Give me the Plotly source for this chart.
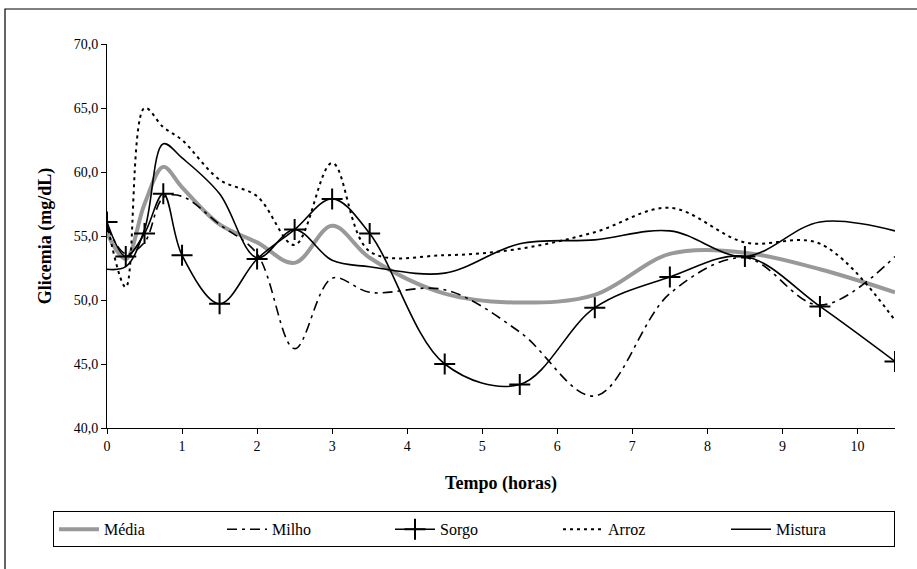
import plotly.graph_objects as go

tempo = [0, 0.25, 0.5, 0.75, 1, 1.5, 2, 2.5, 3, 3.5, 4.5, 5.5, 6.5, 7.5, 8.5, 9.5, 10.5]
media = [55.2, 53.2, 57.5, 60.4, 58.8, 55.9, 54.5, 52.9, 55.8, 53.3, 50.5, 49.8, 50.4, 53.6, 53.7, 52.4, 50.6]
milho = [55.8, 53.6, 54.5, 58.0, 58.1, 55.9, 53.6, 46.2, 51.7, 50.6, 50.8, 47.5, 42.5, 50.5, 53.3, 49.6, 53.4]
sorgo = [56.1, 53.4, 55.2, 58.3, 53.5, 49.7, 53.2, 55.5, 57.9, 55.2, 45.0, 43.4, 49.4, 51.8, 53.4, 49.5, 45.2]
arroz = [56.0, 51.0, 65.0, 63.5, 62.5, 59.4, 58.1, 54.3, 60.7, 53.8, 53.5, 54.0, 55.3, 57.2, 54.5, 54.4, 48.4]
mistura = [52.4, 52.6, 55.5, 62.2, 61.1, 58.3, 53.3, 55.5, 53.1, 52.6, 52.1, 54.4, 54.7, 55.4, 53.4, 56.1, 55.4]

FONT = '"Liberation Serif", "DejaVu Serif", serif'

fig = go.Figure()
fig.add_trace(go.Scatter(x=tempo, y=media, name="Média", mode="lines",
                         line=dict(color="#999999", width=4, shape="spline")))
fig.add_trace(go.Scatter(x=tempo, y=milho, name="Milho", mode="lines",
                         line=dict(color="black", width=1.6, shape="spline", dash="10px,5px,3px,5px")))
fig.add_trace(go.Scatter(x=tempo, y=sorgo, name="Sorgo", mode="lines+markers",
                         line=dict(color="black", width=1.6, shape="spline"),
                         marker=dict(symbol="cross-thin", size=15, color="black",
                                     line=dict(color="black", width=2))))
fig.add_trace(go.Scatter(x=tempo, y=arroz, name="Arroz", mode="lines",
                         line=dict(color="black", width=2, shape="spline", dash="3px,4px")))
fig.add_trace(go.Scatter(x=tempo, y=mistura, name="Mistura", mode="lines",
                         line=dict(color="black", width=1.6, shape="spline")))

fig.update_layout(
    width=917, height=569,
    margin=dict(l=107, r=22, t=44, b=141, autoexpand=False),
    paper_bgcolor="white", plot_bgcolor="white",
    separators=",.",
    font=dict(family=FONT, size=13, color="black"),
    showlegend=True,
    legend=dict(orientation="h", x=(53 - 107) / 788, xanchor="left", y=-0.217, yanchor="top",
                bordercolor="black", borderwidth=1, entrywidth=113, entrywidthmode="pixels",
                font=dict(family=FONT, size=16, color="black"),
                itemwidth=40),
    xaxis=dict(range=[0, 10.5], tickmode="linear", tick0=0, dtick=1,
               showline=True, linecolor="black", linewidth=1, mirror=False,
               ticks="outside", ticklen=5, tickcolor="black", showgrid=False, zeroline=False,
               title=dict(text="<b>Tempo (horas)</b>", font=dict(family=FONT, size=18), standoff=23),
               tickfont=dict(family=FONT, size=14)),
    yaxis=dict(range=[40, 70], tickmode="linear", tick0=40, dtick=5, tickformat=".1f",
               showline=True, linecolor="black", linewidth=1,
               ticks="outside", ticklen=5, tickcolor="black", showgrid=False, zeroline=False,
               title=dict(text="<b>Glicemia (mg/dL)</b>", font=dict(family=FONT, size=18), standoff=17),
               tickfont=dict(family=FONT, size=14)),
    shapes=[dict(type="rect", xref="paper", yref="paper",
                 x0=(5 - 107) / 788, x1=(930 - 107) / 788,
                 y0=(428 - 580) / 384, y1=(428 - 9) / 384,
                 line=dict(color="black", width=1.2), fillcolor="rgba(0,0,0,0)", layer="below")],
)

fig.write_html("out.html", config={"displayModeBar": False},
               post_script="document.body.style.margin='0';")
